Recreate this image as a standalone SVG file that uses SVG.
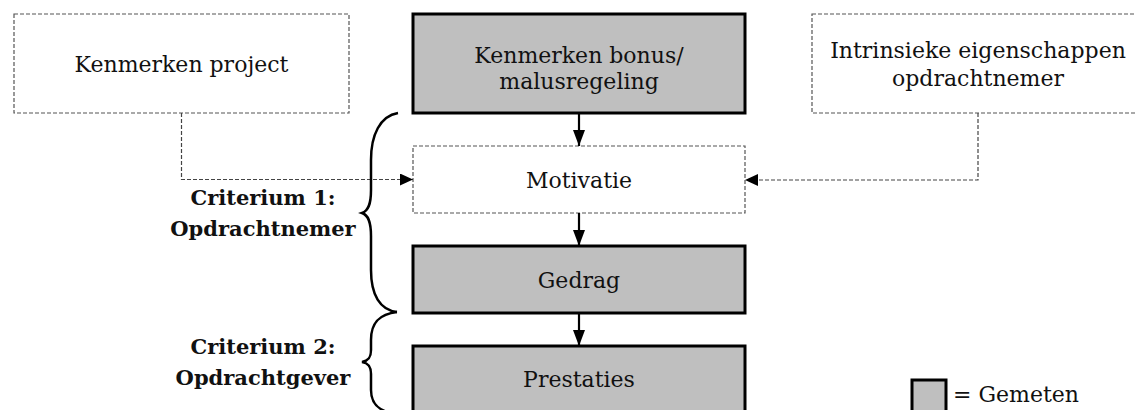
<svg xmlns="http://www.w3.org/2000/svg" width="1135" height="410" viewBox="0 0 1135 410">
<style>
.t{font-family:"DejaVu Serif","Liberation Serif",serif;font-size:22px;fill:#111;text-anchor:middle}
.b{font-weight:bold;font-size:21px}
.dash{fill:#fff;stroke:#555;stroke-width:1.2;stroke-dasharray:4 2}
.solid{fill:#bfbfbf;stroke:#000;stroke-width:3}
.cd{fill:none;stroke:#444;stroke-width:1.2;stroke-dasharray:4 2}
.cs{fill:none;stroke:#000;stroke-width:2.2}
.br{fill:none;stroke:#000;stroke-width:2.5}
</style>
<defs>
<marker id="ah" markerUnits="userSpaceOnUse" markerWidth="16" markerHeight="12" refX="16" refY="6" orient="auto"><path d="M0,0 L16,6 L0,12 Z" fill="#000"/></marker>
<marker id="ad" markerUnits="userSpaceOnUse" markerWidth="13" markerHeight="12" refX="13" refY="6" orient="auto"><path d="M0,0 L13,6 L0,12 Z" fill="#000"/></marker>
</defs>
<g id="kenmerken-project"><rect class="dash" x="14" y="14" width="335" height="99"/><text class="t" x="181.5" y="72">Kenmerken project</text></g>
<g id="kenmerken-bonus"><rect class="solid" x="413" y="14" width="332" height="99"/><text class="t" x="579" y="63">Kenmerken bonus/</text><text class="t" x="579" y="89">malusregeling</text></g>
<g id="intrinsieke"><rect class="dash" x="812" y="14" width="334" height="99"/><text class="t" x="978" y="58">Intrinsieke eigenschappen</text><text class="t" x="978" y="86">opdrachtnemer</text></g>
<g id="motivatie"><rect class="dash" x="413" y="146" width="332" height="67"/><text class="t" x="579" y="188">Motivatie</text></g>
<g id="gedrag"><rect class="solid" x="413" y="246" width="332" height="67"/><text class="t" x="579" y="288">Gedrag</text></g>
<g id="prestaties"><rect class="solid" x="413" y="346" width="332" height="80"/><text class="t" x="579" y="387">Prestaties</text></g>
<g id="connectors">
<line class="cs" x1="579" y1="114" x2="579" y2="146" marker-end="url(#ah)"/>
<line class="cs" x1="579" y1="213" x2="579" y2="246" marker-end="url(#ah)"/>
<line class="cs" x1="579" y1="314" x2="579" y2="346" marker-end="url(#ah)"/>
<path class="cd" d="M181.5,113 V179.5 H413" marker-end="url(#ad)"/>
<path class="cd" d="M978,113 V180 H745" marker-end="url(#ad)"/>
</g>
<g id="criterium1">
<path class="br" d="M398,113 C380,116 371,135 371,160 V190 C371,205 368,211 362,213 C368,215 371,221 371,236 V270 C371,295 380,310 397,312"/>
<text class="t b" x="263" y="205">Criterium 1:</text><text class="t b" x="263" y="236">Opdrachtnemer</text>
</g>
<g id="criterium2">
<path class="br" d="M397,312 C380,314 371,322 371,340 V350 C371,358 368,361 362,362 C368,363 371,366 371,374 V390 C371,405 380,412 397,414"/>
<text class="t b" x="263" y="354">Criterium 2:</text><text class="t b" x="263" y="385">Opdrachtgever</text>
</g>
<g id="legend"><rect class="solid" x="912" y="380" width="34" height="40"/><text class="t" x="953" y="402" style="text-anchor:start">= Gemeten</text></g>
</svg>
